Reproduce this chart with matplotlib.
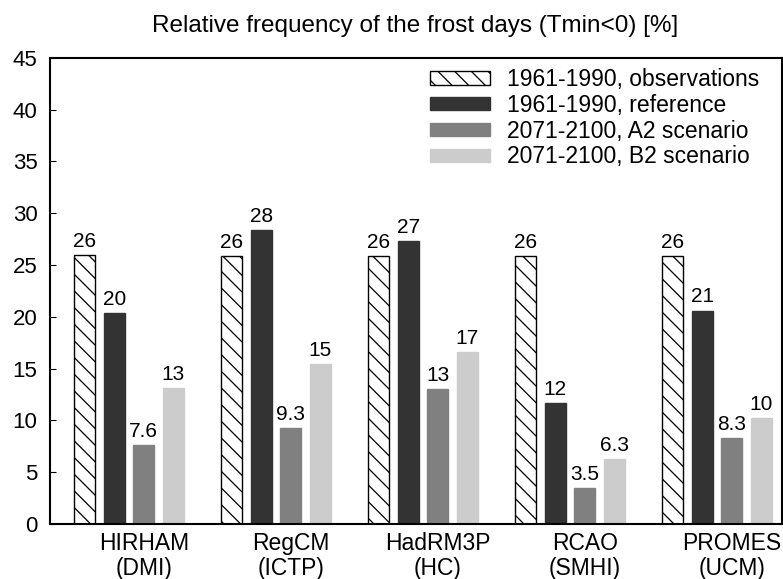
import matplotlib
matplotlib.use('Agg')
import matplotlib.pyplot as plt
import numpy as np

plt.rcParams['font.family'] = ['Liberation Sans', 'DejaVu Sans']
plt.rcParams['hatch.linewidth'] = 0.9

models = ['HIRHAM\n(DMI)', 'RegCM\n(ICTP)', 'HadRM3P\n(HC)', 'RCAO\n(SMHI)', 'PROMES\n(UCM)']
obs = [26.0, 25.9, 25.9, 25.9, 25.9]
ref = [20.4, 28.4, 27.3, 11.7, 20.6]
a2 = [7.6, 9.3, 13.0, 3.5, 8.3]
b2 = [13.1, 15.4, 16.6, 6.3, 10.2]
series_names = ['1961-1990, observations', '1961-1990, reference',
                '2071-2100, A2 scenario', '2071-2100, B2 scenario']

fig = plt.figure(figsize=(7.83, 5.79), dpi=100)
ax = fig.add_axes([0.064, 0.095, 0.9347, 0.805])

x = np.arange(len(models))
w = 0.143
step = 0.2

styles = [dict(color='white', edgecolor='black', hatch='\\\\', linewidth=1.0),
          dict(color='#333333', edgecolor='#333333'),
          dict(color='#808080', edgecolor='#808080'),
          dict(color='#cccccc', edgecolor='#cccccc')]

for j, (vals, name, st) in enumerate(zip([obs, ref, a2, b2], series_names, styles)):
    bars = ax.bar(x + (j - 1.5) * step, vals, w, label=name, **st)
    for b, v in zip(bars, vals):
        ax.text(b.get_x() + b.get_width() / 2, v + 0.4, '%.2g' % v,
                ha='center', va='bottom', fontsize=15)

ax.set_xlim(-0.537, 4.442)
ax.set_ylim(0, 45)
ax.set_yticks(range(0, 46, 5))
ax.set_xticks(x + 0.1)
ax.set_xticklabels(models, fontsize=16.5, linespacing=1.1)
ax.tick_params(axis='x', length=0, pad=6)
ax.tick_params(axis='y', direction='in', length=4, labelsize=16, pad=9)
for s in ax.spines.values():
    s.set_linewidth(1.5)

ax.legend(loc='upper left', bbox_to_anchor=(0.519, 0.978), frameon=False,
          fontsize=16.5, borderpad=0, borderaxespad=0, handlelength=2.6,
          handleheight=0.5, handletextpad=0.75, labelspacing=0.12)

fig.text(0.53, 0.955, 'Relative frequency of the frost days (Tmin<0) [%]',
         ha='center', va='center', fontsize=17.5)

fig.savefig('out.png', dpi=100)
